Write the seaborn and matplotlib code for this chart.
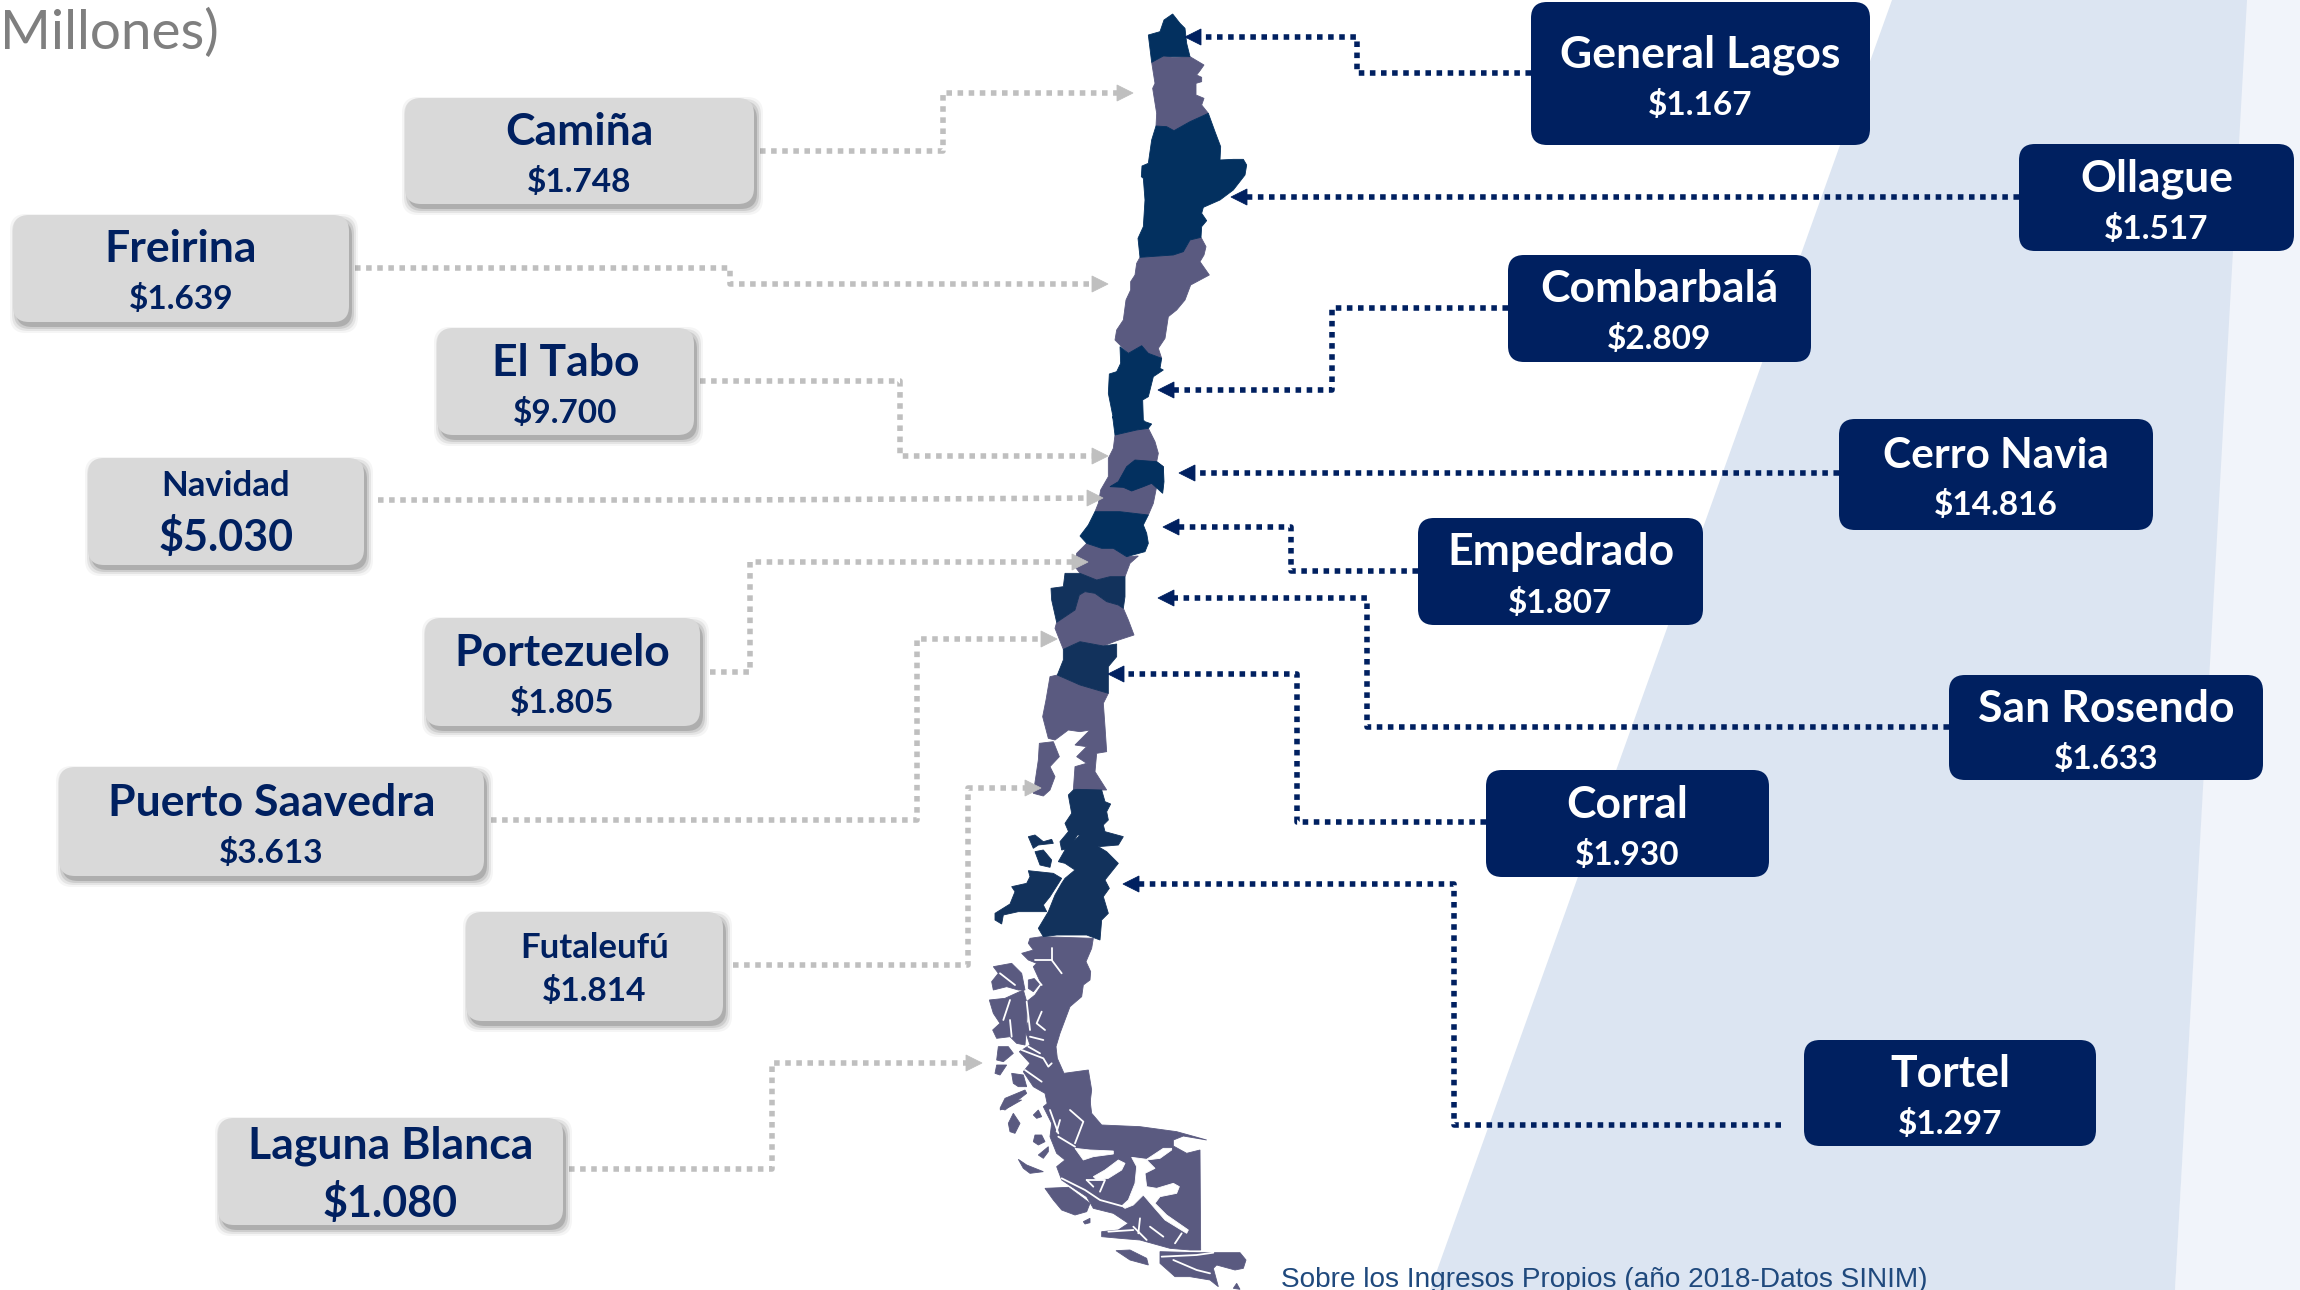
import matplotlib
matplotlib.use("Agg")
import matplotlib.pyplot as plt
import seaborn as sns
from matplotlib.patches import FancyBboxPatch, Polygon

# ---------- data ----------
right_names = ["General Lagos", "Ollague", "Combarbalá", "Cerro Navia", "Empedrado",
               "San Rosendo", "Corral", "Tortel"]
right_values = ["$1.167", "$1.517", "$2.809", "$14.816", "$1.807", "$1.633", "$1.930", "$1.297"]
left_names = ["Camiña", "Freirina", "El Tabo", "Navidad", "Portezuelo",
              "Puerto Saavedra", "Futaleufú", "Laguna Blanca"]
left_values = ["$1.748", "$1.639", "$9.700", "$5.030", "$1.805", "$3.613", "$1.814", "$1.080"]
corner_title = "Millones)"
footnote = "Sobre los Ingresos Propios (año 2018-Datos SINIM)"

# box extents: left, right, top, bottom
right_boxes = [(1531, 1870, 2, 145), (2019, 2294, 144, 251), (1508, 1811, 255, 362),
               (1839, 2153, 419, 530), (1418, 1703, 518, 625), (1949, 2263, 675, 780),
               (1486, 1769, 770, 877), (1804, 2096, 1040, 1146)]
left_boxes = [(405, 754, 98, 204), (13, 349, 215, 322), (437, 694, 328, 435),
              (88, 364, 458, 565), (425, 700, 618, 726), (59, 484, 767, 876),
              (466, 723, 912, 1021), (218, 563, 1118, 1225)]
right_fonts = [(32, 24), (32, 24), (32, 24), (30.5, 24), (32, 24), (32, 24), (32, 24), (32, 24)]
left_fonts = [(32, 24), (32, 24), (32, 24), (25, 31), (32, 24), (32, 24), (25, 24), (32, 31)]
right_offsets = [(-19, 31)] * 8
left_offsets = [(-19, 31), (-19, 31), (-19, 31), (-26, 25), (-19, 31), (-19, 31), (-18, 25), (-26, 32)]

# connector routes
right_routes = [
    ([1531, 1357, 1357, 1192], [73, 73, 37, 37]),
    ([2019, 1238], [197, 197]),
    ([1508, 1332, 1332, 1165], [308, 308, 390, 390]),
    ([1839, 1186], [473, 473]),
    ([1418, 1291, 1291, 1170], [571, 571, 527, 527]),
    ([1949, 1367, 1367, 1165], [727, 727, 598, 598]),
    ([1486, 1297, 1297, 1115], [822, 822, 674, 674]),
    ([1781, 1454, 1454, 1130], [1125, 1125, 884, 884]),
]
left_routes = [
    ([760, 943, 943, 1126], [151, 151, 93, 93]),
    ([355, 730, 730, 1101], [268, 268, 284, 284]),
    ([700, 900, 900, 1101], [381, 381, 456, 456]),
    ([378, 735, 1096], [500, 500, 498]),
    ([710, 750, 750, 1081], [672, 672, 562, 562]),
    ([491, 917, 917, 1050], [820, 820, 639, 639]),
    ([733, 968, 968, 1034], [965, 965, 788, 788]),
    ([569, 772, 772, 975], [1169, 1169, 1063, 1063]),
]

# map outline vertices (crops of the reference)
arica = [(445,105),(480,95),(492,60),(518,42),(540,70),(555,85),(560,130),(570,170),(520,170),(490,168),(455,187)]
tarapaca = [(455,187),(490,168),(520,172),(570,170),(612,195),(600,212),(590,225),(605,232),(605,245),(588,250),
            (588,285),(612,295),(605,315),(625,340),(570,365),(522,392),(500,380),(468,378),(470,340),(458,265),(465,250)]
antofagasta = [(468,378),(500,380),(522,392),(570,365),(625,340),(645,395),(662,440),(660,480),(700,478),(730,478),
               (740,495),(735,525),(700,570),(660,600),(610,622),(605,640),(620,662),(605,680),(603,712),(570,720),
               (550,755),(520,765),(420,772),(414,715),(430,680),(435,600),(430,535),(424,530),(426,498),(445,490),(455,420)]
atacama = [(420,772),(520,765),(550,755),(570,720),(603,712),(618,740),(612,765),(600,785),(628,825),(600,840),
           (572,855),(555,900),(530,930),(505,950),(495,1015),(475,1045),(485,1075),(445,1060),(425,1037),(385,1060),
           (365,1040),(345,1020),(350,990),(370,960),(378,900),(392,870),(392,845),(405,825),(410,790)]
coquimbo_a = [(360,1040),(385,1060),(425,1037),(445,1060),(485,1075),(480,1105),(490,1110),(460,1130),(445,1190),(428,1200),(430,1260)]
coquimbo_b = [(495,35),(515,42),(505,55),(470,60),(405,75),(398,20)]
coquimbo_c = [(340,1255),(325,1180),(328,1122),(350,1115),(362,1090)]
central = [(405,75),(470,60),(505,55),(525,95),(535,130),(530,155),(550,170),(548,240),(530,230),(520,280),(505,315),
           (420,305),(345,305),(355,280),(362,240),(385,200),(385,145),(400,115)]
metropolitana = [(390,230),(415,215),(440,170),(465,150),(530,155),(550,170),(552,215),(548,250),(515,220),(490,230),(455,243),(430,232)]
maule = [(345,305),(420,305),(505,315),(490,345),(500,370),(505,400),(495,425),(440,440),(400,415),(365,415),(320,400),(300,378),(325,345)]
nuble = [(320,400),(365,415),(400,415),(440,440),(475,438),(450,460),(435,500),(390,500),(350,510),(300,490),(285,470),(290,430)]
biobio = [(255,490),(300,490),(350,510),(390,500),(435,500),(435,560),(430,595),(415,585),(380,575),(345,550),(315,545),
          (298,555),(285,600),(230,637),(215,570),(213,535),(250,530)]
araucania = [(230,637),(285,600),(298,555),(315,545),(345,550),(380,575),(415,585),(430,595),(445,630),(462,675),(410,692),
             (370,708),(300,695),(250,718),(225,655)]
los_rios = [(250,718),(300,695),(370,708),(410,702),(410,740),(385,770),(385,850),(300,825),(232,795),(250,750)]
los_lagos = [(210,800),(232,795),(300,825),(385,850),(370,880),(375,950),(380,1025),(350,1030),(345,1085),(380,1140),(280,1140),
             (285,1070),(320,1060),(290,1040),(320,1010),(285,1005),(330,960),(300,965),(265,960),(225,990),(205,985),(188,920),(198,870)]
chiloe_north = [(178,1000),(220,995),(238,1040),(210,1070),(225,1100),(210,1140),(190,1158),(160,1150),(175,1050)]
palena = [(250,30),(262,28),(335,30),(345,65),(362,72),(350,95),(355,120),(340,135),(345,155),(400,170),(385,195),(325,200),
          (350,215),(385,250),(345,300),(358,325),(340,350),(355,400),(335,420),(330,480),(290,465),(200,465),(160,470),
          (145,445),(160,420),(175,395),(195,345),(215,310),(225,295),(255,270),(225,250),(205,245),(225,210),(270,165),
          (240,165),(225,130),(245,100),(235,45)]
palena_islands = [
    [(15,400),(60,372),(75,335),(65,320),(110,310),(120,290),(115,272),(190,280),(215,295),(180,350),(160,375),(170,395),
     (150,395),(85,395),(40,405),(35,432),(15,420)],
    [(210,185),(235,155),(262,165),(240,205),(215,210)],
    [(115,170),(135,165),(160,185),(185,178),(190,190),(145,195),(130,205)],
    [(135,215),(160,210),(185,240),(180,262),(150,255)],
]

# Aysen (crop A)
aysen = [(150,25),(185,20),(340,25),(335,55),(318,95),(332,125),(330,150),(310,165),(305,200),(270,230),(255,270),(240,310),
         (228,350),(232,385),(252,430),(325,420),(335,480),(325,560),(210,560),(195,490),(160,470),(130,425),(150,400),
         (118,365),(150,345),(135,300),(145,275),(140,215),(165,195),(185,165),(160,110),(170,100),(145,90),(125,70),
         (160,60),(145,40)]
aysen_islands = [
    [(40,110),(95,100),(125,130),(135,180),(115,180),(80,170),(40,180),(35,155),(55,130)],
    [(28,210),(75,205),(130,180),(140,215),(140,280),(135,345),(110,340),(90,320),(50,325),(38,300),(60,280),(40,250)],
    [(55,350),(85,350),(100,370),(70,395),(50,390)],
    [(50,405),(80,405),(60,435),(45,430)],
    [(95,430),(130,435),(140,470),(115,470),(100,460)],
    [(60,535),(75,505),(135,480),(140,490),(95,525),(75,540)],
    [(145,150),(165,145),(180,160),(160,185),(145,175)],
]
aysen_fjords = [
    [(165,90),(215,90),(245,130)], [(215,55),(215,90)], [(150,125),(185,165)],
    [(185,245),(170,280),(195,300)], [(150,320),(190,330)], [(145,350),(180,370)],
    [(125,360),(190,385),(205,410),(215,400)], [(135,420),(185,455)],
    [(90,210),(70,270)], [(90,270),(95,320)], [(60,130),(105,165)], [(140,215),(150,300)],
]

# Magallanes (crop B)
magallanes = [(185,0),(300,0),(305,40),(335,75),(450,80),(560,95),(650,120),(580,108),(550,120),(550,138),(590,160),(630,150),
              (632,450),(600,450),(540,445),(450,420),(390,415),(335,410),(335,395),(385,390),(415,370),(370,340),(310,325),
              (290,290),(215,240),(200,200),(225,180),(200,160),(180,110),(185,70),(160,20)]
magallanes_waters = [
    [(545,145),(520,145),(470,178),(425,172),(440,200),(435,250),(415,300),(395,318),(405,325),(430,315),(460,285),(490,320),
     (525,360),(590,400),(595,390),(530,345),(495,310),(510,290),(560,280),(568,260),(550,250),(500,265),(470,260),(465,220),
     (495,205),(470,180),(510,175),(545,150)],
    [(310,230),(345,210),(385,180),(405,190),(395,210),(355,235),(320,240)],
    [(255,145),(300,150),(370,153),(370,162),(310,170),(280,180)],
]
magallanes_islands = [
    [(165,265),(235,262),(300,310),(290,335),(255,345),(215,330),(190,300)],
    [(280,365),(300,355),(300,368),(285,372)],
    [(85,178),(110,195),(160,215),(120,220),(100,205)],
    [(135,105),(155,105),(165,125),(145,135),(130,125)],
    [(145,165),(175,140),(175,155),(160,175)],
    [(55,70),(70,40),(90,70),(75,100),(60,95)],
    [(130,45),(145,30),(155,50),(140,55)],
    [(510,455),(620,458),(680,458),(750,458),(768,480),(760,505),(735,510),(680,495),(670,505),(685,560),(660,540),(600,530),
     (555,530),(510,490)],
    [(378,452),(420,450),(470,475),(475,495),(420,480)],
    [(730,565),(740,550),(750,568)],
    [(30,30),(50,5),(95,0),(60,20)],
]
magallanes_fjords = [
    [(515,470),(620,465),(670,458)], [(550,480),(620,510),(660,520)], [(430,380),(470,420)],
    [(480,380),(520,410)], [(575,400),(555,430)], [(205,110),(255,140)], [(240,30),(280,65),(255,130)],
    [(210,60),(200,95)], [(180,30),(205,100)], [(330,340),(400,370)], [(290,240),(345,240),(330,275)],
    [(290,240),(310,260)], [(215,235),(285,270),(330,300),(395,318)], [(450,355),(445,400)], [(355,395),(430,390)],
]

# ---------- style ----------
NAVY = "#002060"
GREY_BOX = "#D9D9D9"
GREY_LINE = "#BFBFBF"
DARK = "#03305F"
DARK2 = "#12325C"
PURPLE = "#5A5A80"
DOT = (0, (1, 1))

sns.set_theme(style="white")
plt.rcParams["font.family"] = ["Lato", "DejaVu Sans"]

fig = plt.figure(figsize=(23, 12.9), dpi=100, facecolor="white")
ax = fig.add_axes([0, 0, 1, 1])
ax.set_axis_off()


def crop(points, ox, oy, scale=3.0):
    return [(ox + x / scale, oy + y / scale) for x, y in points]


def z1(p):
    return crop(p, 1000, 0)


def z2(p):
    return crop(p, 980, 410)


def z6(p):
    return crop(p, 990, 780)


def za(p):
    return crop(p, 980, 930)


def zb(p):
    return crop(p, 990, 1100)


def fill(points, color, z=3.0):
    ax.add_patch(Polygon(points, closed=True, facecolor=color, edgecolor=color, lw=0.6, zorder=z))


def white_lines(polylines, conv, width):
    for pts in polylines:
        xs, ys = zip(*conv(pts))
        sns.lineplot(x=list(xs), y=list(ys), estimator=None, sort=False, color="white", lw=width, ax=ax, zorder=3.5)


# background bands
ax.add_patch(Polygon([(2246, 0), (2300, 0), (2300, 1290), (2175, 1290)], closed=True, fc="#F1F4FA", ec="none", zorder=0))
ax.add_patch(Polygon([(1892, 0), (2247, 0), (2175, 1290), (1430, 1290)], closed=True, fc="#DCE5F2", ec="none", zorder=1))

# map
fill(za(aysen), PURPLE)
for pts in aysen_islands:
    fill(za(pts), PURPLE)
fill(zb(magallanes), PURPLE)
for pts in magallanes_islands:
    fill(zb(pts), PURPLE)
for pts in magallanes_waters:
    fill(zb(pts), "white", 3.4)
white_lines(aysen_fjords, za, 1.3)
white_lines(magallanes_fjords, zb, 1.3)
for pts in (tarapaca, atacama):
    fill(z1(pts), PURPLE)
for pts in (central, nuble, araucania, los_lagos, chiloe_north):
    fill(z2(pts), PURPLE)
for pts in (arica, antofagasta):
    fill(z1(pts), DARK, 4)
fill(z1(coquimbo_a) + z2(coquimbo_b) + z1(coquimbo_c), DARK, 4)
for pts in (metropolitana, maule):
    fill(z2(pts), DARK, 4)
for pts in (biobio, los_rios):
    fill(z2(pts), DARK2, 4)
fill(z6(palena), DARK2, 4)
for pts in palena_islands:
    fill(z6(pts), DARK2, 4)


# connectors
def connector(route, color, direction):
    xs, ys = route
    sns.lineplot(x=xs, y=ys, estimator=None, sort=False, color=color, lw=4, linestyle=DOT,
                 dash_capstyle="butt", ax=ax, zorder=5)
    tip_x = xs[-1] + direction * 7
    head = -direction * 16
    fill([(tip_x, ys[-1]), (tip_x + head, ys[-1] - 8), (tip_x + head, ys[-1] + 8)], color, 6)


for r in right_routes:
    connector(r, NAVY, -1)
for r in left_routes:
    connector(r, GREY_LINE, 1)


# boxes
def box(extent, name, value, fonts, offsets, face, ink, shadow):
    l, r, t, b = extent
    rad = 16
    if shadow:
        for grow, alpha in ((6, 0.06), (4, 0.10), (2, 0.16), (0, 0.25)):
            ax.add_patch(FancyBboxPatch((l + rad + 3 - grow, t + rad + 5 - grow), r - l - 2 * rad + 2 * grow,
                                        b - t - 2 * rad + 2 * grow,
                                        boxstyle=f"round,pad={rad},rounding_size={rad}", fc="#555555",
                                        ec="none", alpha=alpha, zorder=6.5))
    ax.add_patch(FancyBboxPatch((l + rad, t + rad), r - l - 2 * rad, b - t - 2 * rad,
                                boxstyle=f"round,pad={rad},rounding_size={rad}", fc=face, ec="none", zorder=7))
    cx = (l + r) / 2
    cy = (t + b) / 2
    ax.text(cx, cy + offsets[0], name, ha="center", va="center", color=ink, fontweight="bold",
            fontsize=fonts[0], zorder=8)
    ax.text(cx, cy + offsets[1], value, ha="center", va="center", color=ink, fontweight="bold",
            fontsize=fonts[1], zorder=8)


for e, n, v, f, o in zip(right_boxes, right_names, right_values, right_fonts, right_offsets):
    box(e, n, v, f, o, NAVY, "white", False)
for e, n, v, f, o in zip(left_boxes, left_names, left_values, left_fonts, left_offsets):
    box(e, n, v, f, o, GREY_BOX, NAVY, True)

ax.text(0, 33, corner_title, ha="left", va="center", color="#7F7F7F", fontsize=39.5, zorder=8)
ax.text(1281, 1287, footnote, ha="left", va="baseline", color="#1F497D", fontsize=20.2,
        family=["Liberation Sans", "DejaVu Sans"], zorder=8)

ax.set_xlim(0, 2300)
ax.set_ylim(1290, 0)
ax.set_axis_off()
fig.savefig("out.png", dpi=100)
